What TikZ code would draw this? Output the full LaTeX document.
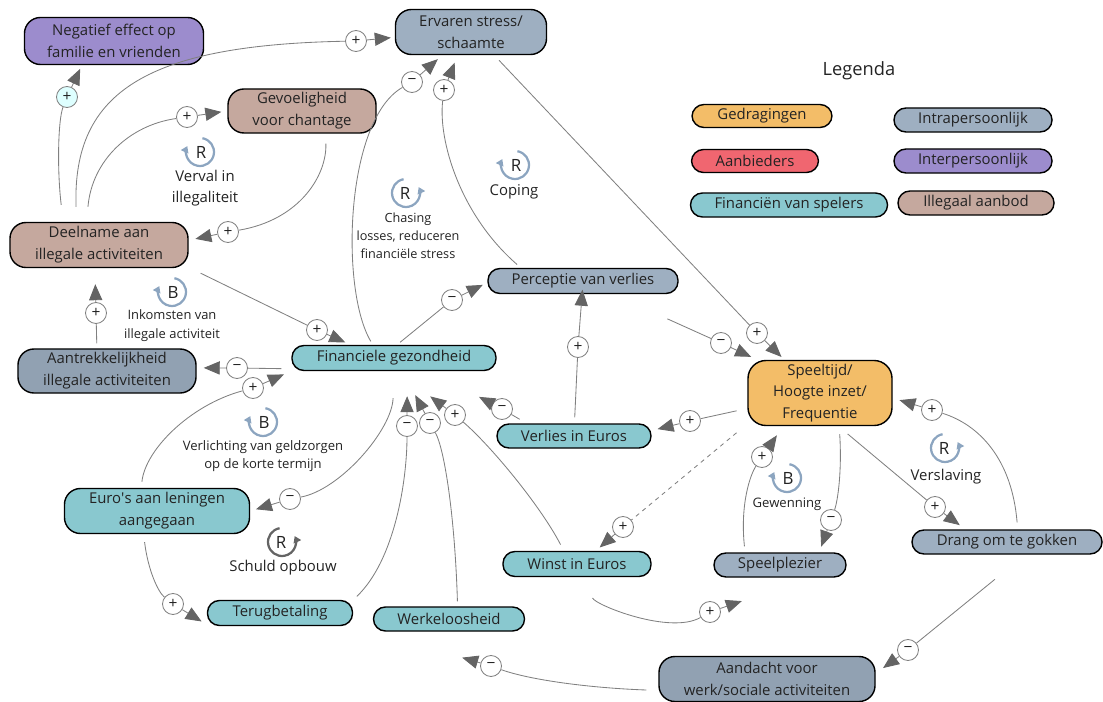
\documentclass[tikz,border=0pt]{standalone}
\usepackage{fontspec}
\setmainfont{Open Sans}
\usetikzlibrary{arrows.meta}
\definecolor{gedrag}{RGB}{243,189,104}
\definecolor{aanbied}{RGB}{240,102,112}
\definecolor{financ}{RGB}{137,200,207}
\definecolor{intra}{RGB}{158,175,193}
\definecolor{inter}{RGB}{156,140,205}
\definecolor{illegaal}{RGB}{197,168,158}
\definecolor{linkgray}{RGB}{128,128,128}
\definecolor{tipgray}{RGB}{100,100,100}
\definecolor{cyclus}{RGB}{140,165,192}
\definecolor{txt}{RGB}{35,35,35}
\definecolor{polcyan}{RGB}{222,255,255}
\begin{document}
\begin{tikzpicture}[x=0.025cm, y=0.025cm,
    varbox/.style={draw=black, line width=1pt, rounded corners=0.4cm, align=center,
      inner sep=1pt, text=txt, font=\fontsize{10.6}{15.5}\selectfont},
    pillbox/.style={varbox, rounded corners=0.3cm},
    pol/.style={circle, draw=linkgray, fill=white, line width=0.6pt, minimum size=0.525cm,
      inner sep=0pt, text=txt, font=\fontsize{11}{11}\selectfont},
    link/.style={draw=linkgray, line width=0.6pt},
    arr/.style={link, -{Triangle[length=0.4cm,width=0.33cm,color=tipgray]}},
    cycmark/.style={draw=cyclus, line width=1.6pt, -{Triangle[length=0.16cm,width=0.2cm]}},
    cycletter/.style={text=txt, font=\fontsize{12}{12}\selectfont},
    cyclabel/.style={text=txt, align=center, font=\fontsize{9.3}{12.8}\selectfont},
    biglabel/.style={cyclabel, font=\fontsize{10.6}{15}\selectfont}
  ]
  %\draw[lightgray] (0,0) grid[step=50] (1103,-702);
  \useasboundingbox (0,0) rectangle (1103,-702);

  % variabelen
  \node[varbox, fill=inter, minimum width=4.475cm, minimum height=1.175cm] (neg) at (114,-41) {Negatief effect op\\familie en vrienden};
  \node[varbox, fill=intra, minimum width=3.775cm, minimum height=1.125cm] (stress) at (471,-32) {Ervaren stress/\\schaamte};
  \node[varbox, fill=illegaal, minimum width=3.7cm, minimum height=1.1cm] (chant) at (302,-111) {Gevoeligheid\\voor chantage};
  \node[varbox, fill=illegaal, minimum width=4.45cm, minimum height=1.125cm] (deel) at (99,-245) {Deelname aan\\illegale activiteiten};
  \node[varbox, fill=intra!92!black, minimum width=4.45cm, minimum height=1.1cm] (aantr) at (107,-371) {Aantrekkelijkheid\\illegale activiteiten};
  \node[pillbox, fill=financ, minimum width=5.1cm, minimum height=0.625cm] (fin) at (394,-358) {Financiele gezondheid};
  \node[pillbox, fill=intra, minimum width=4.75cm, minimum height=0.625cm] (perc) at (583,-281) {Perceptie van verlies};
  \node[varbox, fill=gedrag, rounded corners=0.45cm, minimum width=3.6cm, minimum height=1.625cm] (speel) at (820,-393) {Speeltijd/\\Hoogte inzet/\\Frequentie};
  \node[pillbox, fill=financ, minimum width=3.85cm, minimum height=0.6cm] (verl) at (574,-436) {Verlies in Euros};
  \node[pillbox, fill=financ, minimum width=3.7cm, minimum height=0.625cm] (winst) at (577,-564) {Winst in Euros};
  \node[pillbox, fill=intra, minimum width=3.3cm, minimum height=0.6cm] (plez) at (780,-565) {Speelplezier};
  \node[pillbox, fill=intra, minimum width=4.75cm, minimum height=0.6cm] (drang) at (1007,-542) {Drang om te gokken};
  \node[varbox, fill=financ, minimum width=4.625cm, minimum height=1.125cm] (lening) at (157,-511) {Euro\textquotesingle s aan leningen\\aangegaan};
  \node[pillbox, fill=financ, minimum width=3.625cm, minimum height=0.625cm] (terug) at (280,-613) {Terugbetaling};
  \node[pillbox, fill=financ, minimum width=3.775cm, minimum height=0.6cm] (werk) at (449,-619) {Werkeloosheid};
  \node[varbox, fill=intra!92!black, minimum width=5.4cm, minimum height=1.125cm] (aand) at (767,-679) {Aandacht voor\\werk/sociale activiteiten};

  % legenda
  \node[text=txt, font=\fontsize{13}{15}\selectfont] (legenda) at (859,-71) {Legenda};
  \node[pillbox, fill=gedrag, minimum width=3.5cm, minimum height=0.575cm] (lgedrag) at (762,-116) {Gedragingen};
  \node[pillbox, fill=aanbied, minimum width=3.175cm, minimum height=0.575cm] (laanbied) at (755,-161) {Aanbieders};
  \node[pillbox, fill=financ, minimum width=4.925cm, minimum height=0.6cm] (lfinanc) at (789,-205) {Financiën van spelers};
  \node[pillbox, fill=intra, minimum width=3.95cm, minimum height=0.6cm] (lintra) at (973,-120) {Intrapersoonlijk};
  \node[pillbox, fill=inter, minimum width=3.95cm, minimum height=0.6cm] (linter) at (973,-161) {Interpersoonlijk};
  \node[pillbox, fill=illegaal, minimum width=3.9cm, minimum height=0.6cm] (lillegaal) at (976,-203) {Illegaal aanbod};

  % polariteiten
  \node[pol, fill=polcyan] (p1) at (67,-97) {+};
  \node[pol] (p2) at (356,-41) {+};
  \node[pol] (p3) at (187,-117) {+};
  \node[pol] (p4) at (228,-232) {+};
  \node[pol] (p5) at (317,-330) {+};
  \node[pol] (p6) at (96,-313) {+};
  \node[pol] (p7) at (237,-368) {−};
  \node[pol] (p8) at (253,-388) {+};
  \node[pol] (p9) at (290,-499) {−};
  \node[pol] (p10) at (407,-426) {−};
  \node[pol] (p11) at (430,-423) {−};
  \node[pol] (p12) at (455,-415) {+};
  \node[pol] (p13) at (502,-409) {−};
  \node[pol] (p14) at (690,-421) {+};
  \node[pol] (p15) at (578,-347) {+};
  \node[pol] (p16) at (452,-300) {−};
  \node[pol] (p17) at (412,-82) {−};
  \node[pol] (p18) at (444,-90) {+};
  \node[pol] (p19) at (757,-333) {+};
  \node[pol] (p20) at (721,-343) {−};
  \node[pol] (p21) at (623,-527) {+};
  \node[pol] (p22) at (710,-612) {+};
  \node[pol] (p23) at (762,-457) {+};
  \node[pol] (p24) at (831,-520) {−};
  \node[pol] (p25) at (935,-507) {+};
  \node[pol] (p26) at (932,-410) {+};
  \node[pol] (p27) at (908,-650) {−};
  \node[pol] (p28) at (491,-666) {−};
  \node[pol] (p29) at (173,-604) {+};

  % verbindingen
  \draw[link, shorten <=0.425cm] (deel.147) .. controls (57,-170) and (58,-120) .. (p1);
  \draw[arr, shorten >=0.1cm] (p1) -- (neg.217);
  \draw[link, shorten <=0.375cm] (deel.134) .. controls (72,-90) and (150,-45) .. (p2);
  \draw[arr, shorten >=0.1cm] (p2) -- (stress.184);
  \draw[link, shorten <=0.375cm] (deel.118) .. controls (92,-160) and (130,-125) .. (p3);
  \draw[arr, shorten >=0.15cm] (p3) -- (chant.180);
  \draw[link, shorten <=0.25cm] (chant.316) .. controls (327,-175) and (300,-220) .. (p4);
  \draw[arr, shorten >=0.17cm] (p4) -- (deel.3);
  \draw[link, shorten <=0.33cm] (deel.346) -- (p5);
  \draw[arr, shorten >=0.15cm] (p5) -- (fin.163);
  \draw[link, shorten <=0.125cm] (aantr.114) -- (p6);
  \draw[arr, shorten >=0.4cm] (p6) -- (deel.260);
  \draw[link, shorten <=0.25cm] (fin.186) -- (p7);
  \draw[arr, shorten >=0.175cm] (p7) -- (aantr.2);
  \draw[link, shorten <=0.15cm] (lening.124) .. controls (145,-450) and (190,-405) .. (p8);
  \draw[arr, shorten >=0.2cm] (p8) -- (fin.south west);
  \draw[link, shorten <=0.675cm] (fin.270) .. controls (392,-430) and (340,-490) .. (p9);
  \draw[arr, shorten >=0.15cm] (p9) -- (lening.east);
  \draw[link, shorten <=0.125cm] (terug.north east) .. controls (395,-560) and (407,-480) .. (p10);
  \draw[arr, shorten >=0.625cm] (p10) -- (fin.315);
  \draw[link, shorten <=0.125cm] (werk.56) .. controls (455,-520) and (445,-450) .. (p11);
  \draw[arr, shorten >=0.675cm] (p11) -- (fin.303);
  \draw[link, shorten <=0.175cm] (winst.135) .. controls (540,-505) and (490,-445) .. (p12);
  \draw[arr, shorten >=1.05cm] (p12) -- (fin.281);
  \draw[link, shorten <=0.2cm] (verl.165) -- (p13);
  \draw[arr, shorten >=1.375cm] (p13) -- (fin.340);
  \draw[link, shorten <=0.275cm] (speel.192) -- (p14);
  \draw[arr, shorten >=0.15cm] (p14) -- (verl.4);
  \draw[link, shorten <=0.15cm] (verl.88) -- (p15);
  \draw[arr, shorten >=0.55cm] (p15) -- (perc.85);
  \draw[link, shorten <=0.1cm] (fin.77) -- (p16);
  \draw[arr, shorten >=0.125cm] (p16) -- (perc.181);
  \draw[link, shorten <=0.1cm] (fin.148) .. controls (340,-290) and (345,-120) .. (p17);
  \draw[arr, shorten >=0.15cm] (p17) -- (stress.219);
  \draw[link, shorten <=0.125cm] (perc.168) .. controls (460,-215) and (438,-140) .. (p18);
  \draw[arr, shorten >=0.2cm] (p18) -- (stress.240);
  \draw[link, shorten <=0.175cm] (stress.315) -- (p19);
  \draw[arr, shorten >=0.1cm] (p19) -- (speel.137);
  \draw[link, shorten <=1.5cm] (perc.336) -- (p20);
  \draw[arr, shorten >=0.175cm] (p20) -- (speel.152);
  \draw[link, dashed, shorten <=0.35cm] (speel.203) -- (p21);
  \draw[arr, dashed, shorten >=0.125cm] (p21) -- (winst.35);
  \draw[link, shorten <=0.55cm] (winst.302) .. controls (595,-605) and (670,-635) .. (p22);
  \draw[arr, shorten >=1.8cm] (p22) -- (plez.337);
  \draw[link, shorten <=0.15cm] (plez.160) .. controls (740,-505) and (750,-475) .. (p23);
  \draw[arr, shorten >=0.275cm] (p23) -- (speel.222);
  \draw[link, shorten <=0.2cm] (speel.300) .. controls (842,-470) and (838,-500) .. (p24);
  \draw[arr, shorten >=0.15cm] (p24) -- (plez.18);
  \draw[link, shorten <=0.3cm] (speel.299) -- (p25);
  \draw[arr, shorten >=0.175cm] (p25) -- (drang.163);
  \draw[link, shorten <=0.175cm] (drang.50) .. controls (1012,-460) and (980,-425) .. (p26);
  \draw[arr, shorten >=0.175cm] (p26) -- (speel.356);
  \draw[link, shorten <=0.975cm] (drang.325) -- (p27);
  \draw[arr, shorten >=0.225cm] (p27) -- (aand.3);
  \draw[link, shorten <=0.3cm] (aand.186) .. controls (590,-688) and (530,-680) .. (p28);
  \draw[arr, shorten >=2.325cm] (p28) -- (werk.south west);
  \draw[link, shorten <=0.2cm] (lening.240) .. controls (148,-570) and (158,-592) .. (p29);
  \draw[arr, shorten >=0.15cm] (p29) -- (terug.189);

  % lussen
  \draw[cycmark] (200,-152) ++(80:0.35cm) arc[start angle=80, end angle=-205, radius=0.35cm];
  \node[cycletter] (rverval) at (201,-152) {R};
  \node[biglabel] (lverval) at (205,-188) {Verval in\\illegaliteit};
  \draw[cycmark] (406,-193) ++(100:0.35cm) arc[start angle=100, end angle=385, radius=0.35cm];
  \node[cycletter] (rchasing) at (405,-193) {R};
  \node[cyclabel, font=\fontsize{9}{12.8}\selectfont] (lchasing) at (408,-236) {Chasing\\losses, reduceren\\financiële stress};
  \draw[cycmark] (515,-165) ++(80:0.35cm) arc[start angle=80, end angle=-205, radius=0.35cm];
  \node[cycletter] (rcoping) at (516,-165) {R};
  \node[biglabel] (lcoping) at (514,-192) {Coping};
  \draw[cycmark] (172,-292) ++(80:0.35cm) arc[start angle=80, end angle=-205, radius=0.35cm];
  \node[cycletter] (binkomst) at (173,-292) {B};
  \node[cyclabel, font=\fontsize{9.2}{13.5}\selectfont] (linkomst) at (172,-326) {Inkomsten van\\illegale activiteit};
  \draw[cycmark] (263,-422) ++(80:0.35cm) arc[start angle=80, end angle=-205, radius=0.35cm];
  \node[cycletter] (bverlicht) at (264,-422) {B};
  \node[cyclabel] (lverlicht) at (263,-456) {Verlichting van geldzorgen\\op de korte termijn};
  \draw[cycmark, draw=tipgray] (282,-542) ++(100:0.35cm) arc[start angle=100, end angle=385, radius=0.35cm];
  \node[cycletter] (rschuld) at (281,-542) {R};
  \node[biglabel] (lschuld) at (283,-568) {Schuld opbouw};
  \draw[cycmark] (787,-478) ++(80:0.35cm) arc[start angle=80, end angle=-205, radius=0.35cm];
  \node[cycletter] (bgewen) at (788,-478) {B};
  \node[cyclabel] (lgewen) at (787,-504) {Gewenning};
  \draw[cycmark] (945,-448) ++(100:0.35cm) arc[start angle=100, end angle=385, radius=0.35cm];
  \node[cycletter] (rverslav) at (944,-448) {R};
  \node[biglabel] (lverslav) at (946,-477) {Verslaving};
\end{tikzpicture}
\end{document}
